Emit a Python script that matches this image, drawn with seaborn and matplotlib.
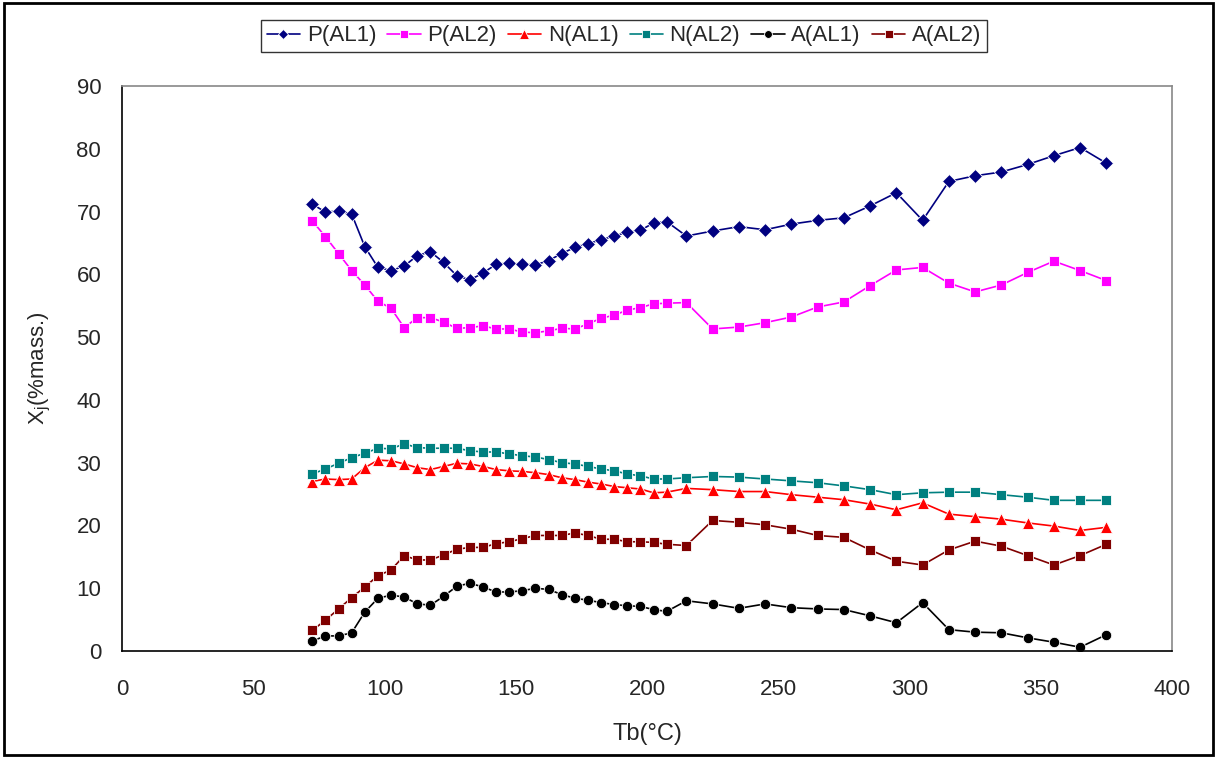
import numpy as np
import pandas as pd
import matplotlib
matplotlib.use("Agg")
import matplotlib.pyplot as plt
import seaborn as sns
from matplotlib.patches import Rectangle

# ---- data ----
tb = [72.5, 77.5, 82.5, 87.5, 92.5, 97.5, 102.5, 107.5, 112.5, 117.5,
      122.5, 127.5, 132.5, 137.5, 142.5, 147.5, 152.5, 157.5, 162.5, 167.5,
      172.5, 177.5, 182.5, 187.5, 192.5, 197.5, 202.5, 207.5,
      215, 225, 235, 245, 255, 265, 275, 285, 295, 305, 315, 325, 335, 345,
      355, 365, 375]

p_al1 = [71.2, 69.9, 70.1, 69.6, 64.4, 61.1, 60.6, 61.3, 63.0, 63.6,
         61.9, 59.8, 59.1, 60.2, 61.6, 61.8, 61.6, 61.5, 62.2, 63.3,
         64.3, 64.9, 65.5, 66.1, 66.7, 67.0, 68.2, 68.4,
         66.1, 66.9, 67.6, 67.1, 68.0, 68.6, 69.0, 70.9, 73.0, 68.6,
         74.8, 75.7, 76.3, 77.5, 78.9, 80.2, 77.7]

p_al2 = [68.5, 66.0, 63.3, 60.6, 58.3, 55.7, 54.6, 51.5, 53.1, 53.1,
         52.4, 51.4, 51.5, 51.8, 51.3, 51.3, 50.8, 50.7, 51.0, 51.4,
         51.3, 52.1, 53.0, 53.5, 54.3, 54.7, 55.3, 55.4,
         55.5, 51.3, 51.6, 52.3, 53.2, 54.8, 55.6, 58.2, 60.7, 61.1,
         58.6, 57.2, 58.3, 60.3, 62.1, 60.6, 59.0]

n_al1 = [27.0, 27.4, 27.3, 27.4, 29.2, 30.4, 30.3, 29.8, 29.2, 28.9,
         29.4, 29.9, 29.8, 29.4, 28.9, 28.7, 28.6, 28.4, 28.1, 27.6,
         27.3, 26.9, 26.6, 26.2, 26.0, 25.8, 25.2, 25.3,
         25.9, 25.7, 25.4, 25.4, 24.9, 24.5, 24.1, 23.4, 22.5, 23.6,
         21.8, 21.4, 21.0, 20.4, 19.9, 19.2, 19.7]

n_al2 = [28.2, 29.0, 29.9, 30.8, 31.5, 32.3, 32.2, 33.0, 32.4, 32.3,
         32.3, 32.3, 31.9, 31.7, 31.7, 31.4, 31.1, 30.9, 30.5, 30.0,
         29.8, 29.4, 29.0, 28.7, 28.2, 27.9, 27.4, 27.4,
         27.6, 27.8, 27.7, 27.4, 27.1, 26.8, 26.3, 25.7, 24.9, 25.2,
         25.3, 25.3, 24.9, 24.5, 24.0, 24.0, 24.0]

a_al1 = [1.6, 2.4, 2.4, 2.9, 6.2, 8.4, 8.9, 8.6, 7.5, 7.3,
         8.7, 10.3, 10.8, 10.2, 9.4, 9.4, 9.6, 10.0, 9.8, 9.0,
         8.4, 8.1, 7.7, 7.4, 7.2, 7.1, 6.6, 6.3,
         8.0, 7.5, 6.8, 7.5, 6.9, 6.7, 6.6, 5.6, 4.5, 7.7,
         3.4, 3.0, 2.9, 2.1, 1.4, 0.6, 2.6]

a_al2 = [3.3, 4.9, 6.7, 8.5, 10.2, 12.0, 12.9, 15.2, 14.5, 14.5,
         15.3, 16.2, 16.5, 16.5, 17.1, 17.4, 17.9, 18.4, 18.4, 18.4,
         18.8, 18.4, 17.8, 17.8, 17.4, 17.4, 17.3, 17.0,
         16.8, 20.8, 20.5, 20.1, 19.4, 18.4, 18.1, 16.1, 14.3, 13.7,
         16.1, 17.5, 16.7, 15.2, 13.7, 15.2, 17.0]

series_names = ["P(AL1)", "P(AL2)", "N(AL1)", "N(AL2)", "A(AL1)", "A(AL2)"]
series_values = [p_al1, p_al2, n_al1, n_al2, a_al1, a_al2]

x_ticks = [0, 50, 100, 150, 200, 250, 300, 350, 400]
y_ticks = [0, 10, 20, 30, 40, 50, 60, 70, 80, 90]

# ---- styling ----
sns.set_style("white")
plt.rcParams['font.family'] = ['Liberation Sans', 'DejaVu Sans']

palette = {"P(AL1)": "#000080", "P(AL2)": "#FF00FF", "N(AL1)": "#FF0000",
           "N(AL2)": "#008080", "A(AL1)": "#000000", "A(AL2)": "#800000"}
markers = {"P(AL1)": "D", "P(AL2)": "s", "N(AL1)": "^",
           "N(AL2)": "s", "A(AL1)": "o", "A(AL2)": "s"}

df = pd.concat([pd.DataFrame({"Tb": tb, "X": vals, "series": name})
                for name, vals in zip(series_names, series_values)],
               ignore_index=True)

fig = plt.figure(figsize=(12.16, 7.58), dpi=100)
ax = fig.add_axes([122 / 1216, 1 - 651 / 758, 1050 / 1216, 565 / 758])

sns.lineplot(data=df, x="Tb", y="X", hue="series", style="series",
             hue_order=series_names, style_order=series_names,
             palette=palette, markers=markers, dashes=False, sort=False,
             linewidth=1.2, markersize=7, markeredgewidth=0.6, ax=ax)

for ln in ax.lines:
    if ln.get_marker() == "^":
        ln.set_markersize(9)
    elif ln.get_marker() == "o":
        ln.set_markersize(7.5)

ax.set_xlim(0, 400)
ax.set_ylim(0, 90)
ax.set_xticks(x_ticks)
ax.set_yticks(y_ticks)
ax.tick_params(axis='both', labelsize=16, direction='out', length=7,
               width=1, color='black')
ax.tick_params(axis='y', pad=8)
ax.tick_params(axis='x', pad=13)
ax.set_xlabel("Tb(°C)", fontsize=17, labelpad=17)
ax.set_ylabel(r"X$_\mathregular{j}$(%mass.)", fontsize=16, labelpad=17)

for s in ["left", "bottom"]:
    ax.spines[s].set_color("black")
    ax.spines[s].set_linewidth(1.2)
for s in ["top", "right"]:
    ax.spines[s].set_color("#888888")
    ax.spines[s].set_linewidth(1.2)

handles, labels = ax.get_legend_handles_labels()
ax.get_legend().remove()
leg = fig.legend(handles, labels, ncol=6, loc="center",
                 bbox_to_anchor=(624 / 1216, 1 - 36 / 758),
                 fontsize=16, frameon=True, fancybox=False,
                 edgecolor="black", handlelength=1.5, handletextpad=0.3,
                 columnspacing=0.5, borderpad=0.25, markerscale=0.75)
leg.get_frame().set_linewidth(1.0)

fig.patches.append(Rectangle((4 / 1216, 3 / 758), 1209 / 1216, 752 / 758,
                             transform=fig.transFigure, fill=False,
                             edgecolor="black", linewidth=2))

fig.savefig("out.png", dpi=100)
